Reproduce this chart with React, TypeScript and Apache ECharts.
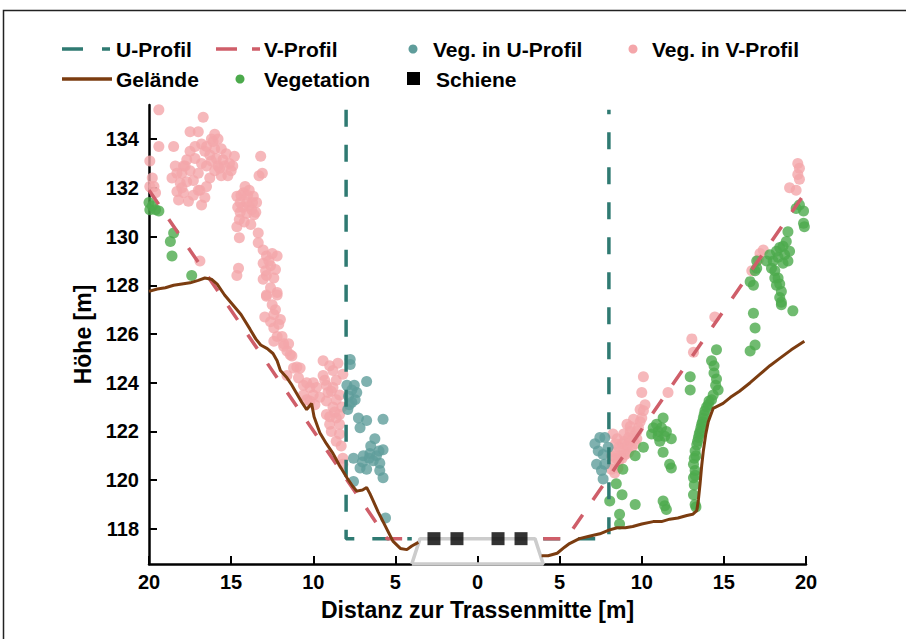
import React, { useEffect, useRef } from "react";
import * as echarts from "echarts";

const FONT = "'Liberation Sans', Arial, Helvetica, sans-serif";

const xTicks = [-20, -15, -10, -5, 0, 5, 10, 15, 20];
const yTicks = [118, 120, 122, 124, 126, 128, 130, 132, 134];

const uProfilLeft = [[-8, 135.2], [-8, 117.6], [-4, 117.6]];
const uProfilRight = [[4, 117.6], [8, 117.6], [8, 135.2]];
const vProfilLeft = [[-20, 131.9], [-5.5, 117.6], [-4, 117.6]];
const vProfilRight = [[4, 117.6], [5.4, 117.6], [20, 131.85]];

const gelaendeLeft = [
  [-20, 127.75], [-19.5, 127.85], [-19, 127.9], [-18.5, 128.0], [-18, 128.05], [-17.5, 128.1],
  [-17, 128.2], [-16.6, 128.3], [-16.2, 128.25], [-15.85, 128.05], [-15.4, 127.6], [-14.9, 127.2],
  [-14.4, 126.8], [-13.85, 126.2], [-13.5, 125.8], [-13.2, 125.55], [-12.8, 125.4], [-12.45, 125.2],
  [-12.2, 124.9], [-12.0, 124.5], [-11.6, 124.2], [-11.3, 123.9], [-11.0, 123.55], [-10.7, 123.2],
  [-10.4, 122.9], [-10.1, 123.15], [-9.95, 122.6], [-9.6, 121.95], [-9.2, 121.5], [-8.8, 121.1],
  [-8.4, 120.6], [-7.95, 120.1], [-7.6, 119.75], [-7.35, 119.55], [-7.0, 119.6], [-6.75, 119.7],
  [-6.55, 119.45], [-6.35, 119.15], [-6.05, 118.7], [-5.75, 118.3], [-5.45, 117.9], [-5.15, 117.5],
  [-4.7, 117.2], [-4.3, 117.15], [-4.0, 117.3], [-3.6, 117.45],
];
const gelaendeRight = [
  [3.9, 116.9], [4.3, 116.9], [4.85, 117.0], [5.3, 117.25], [5.6, 117.4], [6.2, 117.6], [6.8, 117.7],
  [7.45, 117.8], [8.0, 117.95], [8.5, 118.05], [9.0, 118.05], [9.45, 118.1], [10.0, 118.2],
  [10.7, 118.3], [11.2, 118.3], [11.7, 118.4], [12.2, 118.45], [12.75, 118.55], [13.1, 118.6],
  [13.35, 118.75], [13.45, 119.2], [13.55, 119.85], [13.65, 120.6], [13.75, 121.2], [13.9, 121.9],
  [14.05, 122.4], [14.35, 122.95], [14.95, 123.15], [15.4, 123.4], [15.95, 123.65], [16.6, 124.0],
  [17.2, 124.35], [17.8, 124.7], [18.4, 125.0], [19.1, 125.35], [19.9, 125.7],
];

const railBed = [[-4.0, 116.56], [-3.5, 117.6], [3.5, 117.6], [4.0, 116.56], [-4.0, 116.56]];
const schiene = [[-2.65, 117.6], [-1.25, 117.6], [1.25, 117.6], [2.65, 117.6]];

const vegVProfil = [
  [-19.4, 135.2], [-16.7, 134.9], [-17.5, 134.3], [-17.0, 134.3], [-19.4, 133.7], [-18.5, 133.7],
  [-19.95, 133.1], [-16.2, 134.0], [-15.8, 134.0], [-16.5, 133.7], [-16.0, 133.6], [-16.3, 133.35],
  [-17.5, 133.5], [-17.7, 133.15], [-17.2, 133.2], [-16.8, 133.0], [-16.5, 132.9], [-15.5, 133.15],
  [-15.1, 133.0], [-14.8, 133.3], [-15.7, 132.8], [-15.2, 132.5], [-15.6, 132.5], [-13.2, 133.3],
  [-17.5, 132.7], [-18.0, 132.6], [-18.6, 132.4], [-18.1, 132.2], [-17.7, 132.25], [-17.3, 132.3],
  [-18.3, 131.85], [-17.9, 131.8], [-18.2, 131.5], [-17.6, 131.45], [-16.9, 131.9], [-16.5, 132.05],
  [-16.3, 132.4], [-16.8, 131.3], [-19.8, 132.4], [-19.7, 132.05], [-19.95, 132.05], [-19.6, 131.8],
  [-13.3, 132.5], [-13.1, 132.6], [-14.65, 131.65], [-14.25, 131.8], [-14.45, 131.4], [-14.05, 131.4],
  [-14.15, 132.05], [-13.65, 131.65], [-13.45, 131.4], [-13.75, 131.1], [-14.45, 131.0], [-14.05, 130.95],
  [-14.65, 130.4], [-14.5, 129.95], [-13.35, 130.15], [-13.35, 129.75], [-13.05, 129.45], [-12.85, 129.2],
  [-12.5, 129.3], [-12.2, 129.2], [-13.05, 128.9], [-12.6, 128.8], [-12.3, 128.65], [-12.85, 128.4],
  [-13.05, 128.25], [-14.55, 128.7], [-14.65, 128.4], [-16.9, 129.0], [-12.2, 127.7], [-12.85, 127.55],
  [-16.8, 133.8], [-16.1, 133.9], [-15.9, 133.2], [-17.9, 132.9], [-17.0, 132.6], [-18.4, 132.9],
  [-16.0, 132.7], [-15.0, 132.7], [-14.3, 131.2], [-13.9, 131.25], [-13.6, 130.9], [-14.2, 130.6],
  [-13.8, 130.5],
  [-16.6, 133.5], [-16.2, 133.1], [-15.8, 132.9], [-15.4, 132.9], [-16.0, 134.2], [-15.6, 133.6],
  [-17.2, 133.7], [-17.8, 132.9], [-18.3, 132.6], [-17.0, 131.9], [-16.6, 131.6], [-17.3, 131.7],
  [-18.0, 132.0], [-15.3, 133.4], [-14.9, 132.9],
  [-14.4, 131.7], [-14.0, 131.7], [-13.9, 131.9], [-14.5, 130.7], [-13.7, 131.4], [-14.6, 131.2],
  [-13.5, 131.0],
  [-12.7, 129.0], [-12.9, 128.6], [-12.4, 128.3], [-12.6, 127.9], [-12.5, 127.2], [-12.3, 127.0],
  [-12.1, 126.4], [-12.6, 126.5], [-11.9, 125.9], [-11.5, 125.6],
  [-12.85, 127.6], [-12.2, 127.6], [-12.95, 126.7], [-12.4, 126.8], [-12.0, 126.6], [-12.4, 126.25],
  [-12.2, 125.9], [-11.8, 125.6], [-11.6, 125.3], [-11.3, 125.1], [-11.2, 124.6], [-10.8, 124.6],
  [-11.6, 124.3], [-10.6, 123.9], [-10.2, 123.8], [-10.6, 123.5], [-10.0, 123.5], [-9.6, 123.4],
  [-10.2, 123.25], [-9.4, 124.9], [-8.8, 124.5], [-9.4, 124.3], [-9.2, 123.9], [-8.6, 124.1],
  [-8.9, 123.65], [-8.4, 123.5], [-8.2, 124.35], [-9.2, 123.25], [-8.8, 123.0], [-9.2, 122.7],
  [-8.6, 122.55], [-9.0, 122.3], [-8.4, 122.3], [-8.9, 122.0], [-8.4, 121.9], [-8.25, 123.0],
  [-8.4, 122.7], [-8.2, 120.9], [-8.2, 120.65], [-12.4, 125.7], [-11.8, 125.5], [-11.4, 125.15],
  [-11.0, 124.65], [-9.3, 124.1], [-8.6, 123.3], [-9.9, 123.1], [-10.4, 123.3],
  [-10.9, 124.2], [-10.4, 124.0], [-10.0, 124.0], [-9.8, 123.8], [-9.1, 123.6], [-8.8, 123.8],
  [-9.0, 124.7], [-8.5, 124.8], [-8.7, 122.8], [-9.0, 122.6], [-8.6, 121.6], [-8.3, 121.4],
  [10.1, 124.25], [10.0, 123.6], [10.2, 123.1], [10.1, 122.85], [10.0, 122.55], [9.9, 122.4],
  [9.8, 122.15], [9.1, 122.3], [9.3, 122.0], [9.5, 121.8], [9.2, 121.75], [8.95, 121.6], [8.8, 121.5],
  [8.6, 121.35], [8.25, 121.9], [8.35, 121.15], [8.15, 121.0], [8.45, 120.9], [8.25, 120.65],
  [8.55, 120.5], [8.35, 120.3], [8.15, 120.45], [9.6, 121.5], [9.4, 121.35], [9.2, 121.15],
  [9.0, 121.05], [8.8, 120.9], [8.6, 120.8], [11.6, 123.6], [13.05, 125.8], [13.15, 125.25],
  [14.45, 126.7], [17.2, 129.3], [17.1, 129.05], [16.7, 128.6], [17.4, 129.45], [19.0, 132.0],
  [19.4, 131.9], [19.6, 132.35], [19.5, 132.55], [19.5, 133.0], [19.6, 132.8],
  [8.9, 121.2], [9.1, 121.4], [9.3, 121.6], [9.7, 122.0], [9.5, 122.5], [9.9, 122.9], [9.7, 121.7],
  [8.7, 121.0], [8.4, 121.5], [8.5, 121.7], [8.9, 121.9], [9.3, 122.2],
];

const vegUProfil = [
  [-7.75, 124.95], [-7.75, 124.75], [-7.95, 123.9], [-7.65, 123.7], [-7.35, 123.6], [-7.85, 123.45],
  [-7.45, 123.3], [-7.65, 123.2], [-6.75, 124.05], [-7.25, 122.55], [-6.75, 122.45], [-5.75, 122.5],
  [-7.15, 122.15], [-6.25, 121.7], [-5.75, 121.25], [-6.55, 121.1], [-6.95, 121.0], [-6.15, 121.0],
  [-6.35, 120.8], [-5.95, 120.7], [-7.15, 120.5], [-6.75, 120.45], [-5.95, 120.4], [-5.75, 120.1],
  [-7.55, 119.95], [-5.6, 118.45], [-7.55, 120.9], [-7.9, 122.9], [-6.6, 120.9],
  [-7.8, 123.1], [-7.5, 123.9], [-6.5, 121.4], [-6.0, 121.2], [-7.0, 120.75],
  [7.15, 121.5], [7.45, 121.75], [7.75, 121.75], [7.35, 121.2], [7.65, 121.05], [7.25, 120.65],
  [7.75, 120.65], [7.55, 120.4], [7.95, 121.35], [7.65, 120.05],
];

const vegetation = [
  [-20.0, 131.4], [-19.8, 131.25], [-19.6, 131.1], [-19.4, 131.05], [-19.95, 131.1], [-18.5, 130.15],
  [-18.7, 129.8], [-18.6, 129.2], [-17.4, 128.4],
  [14.55, 125.35], [14.25, 124.9], [14.55, 124.15], [14.65, 123.7], [14.25, 123.3], [14.05, 123.1],
  [13.85, 122.85], [13.75, 122.55], [13.65, 122.3], [13.55, 122.0], [13.45, 121.75], [13.35, 121.45],
  [13.25, 121.2], [13.2, 120.9], [13.15, 120.65], [13.15, 120.1], [13.15, 119.4], [12.95, 124.25],
  [12.95, 123.7], [10.7, 122.15], [11.0, 122.0], [11.2, 122.15], [10.6, 121.9], [11.0, 121.8],
  [11.4, 121.8], [11.8, 121.7], [11.3, 121.15], [11.7, 120.65], [11.8, 120.5], [11.3, 122.55],
  [10.1, 121.35], [9.6, 121.0], [8.85, 120.45], [8.45, 119.85], [8.8, 119.4], [8.65, 118.6],
  [9.6, 119.0], [11.3, 119.15], [11.4, 118.95], [13.25, 119.0], [8.65, 118.2], [16.8, 126.85],
  [16.9, 126.25], [16.9, 125.55], [16.6, 125.3], [18.5, 127.2], [19.2, 126.95], [19.6, 131.3],
  [19.85, 131.05], [19.4, 131.15], [19.9, 130.4], [19.85, 130.55], [18.9, 130.2], [18.8, 129.8],
  [19.0, 129.4], [18.7, 129.25], [18.9, 129.0], [18.4, 129.55], [18.3, 129.15], [18.0, 129.0],
  [17.8, 129.25], [17.9, 128.7], [18.1, 128.6], [18.3, 128.3], [18.4, 128.05], [18.5, 127.75],
  [18.4, 127.5], [18.5, 127.3], [18.1, 128.3], [17.6, 129.0], [17.0, 129.0], [16.9, 128.6],
  [16.6, 128.15], [16.8, 128.0], [17.0, 128.7], [8.05, 119.15], [11.5, 118.8], [13.3, 118.9],
  [13.3, 121.0], [13.4, 121.6], [13.5, 121.9], [13.6, 122.15], [13.7, 122.4], [13.8, 122.7],
  [13.95, 123.0], [14.1, 123.25], [14.35, 123.5], [14.5, 123.9], [14.4, 124.4], [14.4, 124.7],
  [13.25, 120.4], [13.2, 119.8], [13.25, 120.2],
  [18.6, 129.6], [18.2, 129.4], [18.6, 128.9], [18.2, 128.0],
  [10.9, 122.3], [11.5, 122.0], [11.1, 121.6],
];

const C = {
  uLine: "#2f7a72",
  vLine: "#cf5e69",
  uDot: "#5f9d9b",
  vDot: "#f4a6aa",
  green: "#4caa4c",
  brown: "#7b3c10",
  gray: "#cccccc",
};

const DASH = [17, 18];

export default function App() {
  const ref = useRef<HTMLDivElement>(null);
  useEffect(() => {
    if (!ref.current) return;
    const chart = echarts.init(ref.current, null, { renderer: "svg" });
    const label = { fontFamily: FONT, fontWeight: "bold" as const, fontSize: 21, fill: "#000" };
    const row1 = 49;
    const row2 = 79;
    const legendGraphics: any[] = [
      { type: "line", shape: { x1: 62, y1: row1, x2: 110, y2: row1 }, style: { stroke: C.uLine, lineWidth: 3.5, lineDash: [21, 19] } },
      { type: "text", x: 116, y: row1, style: { ...label, text: "U-Profil", verticalAlign: "middle" } },
      { type: "line", shape: { x1: 216, y1: row1, x2: 260, y2: row1 }, style: { stroke: C.vLine, lineWidth: 3.5, lineDash: [21, 15] } },
      { type: "text", x: 264, y: row1, style: { ...label, text: "V-Profil", verticalAlign: "middle" } },
      { type: "circle", shape: { cx: 413, cy: row1, r: 4.5 }, style: { fill: C.uDot } },
      { type: "text", x: 433, y: row1, style: { ...label, text: "Veg. in U-Profil", verticalAlign: "middle" } },
      { type: "circle", shape: { cx: 633, cy: row1, r: 4.5 }, style: { fill: C.vDot } },
      { type: "text", x: 652, y: row1, style: { ...label, text: "Veg. in V-Profil", verticalAlign: "middle" } },
      { type: "line", shape: { x1: 62, y1: row2, x2: 112, y2: row2 }, style: { stroke: C.brown, lineWidth: 3.5 } },
      { type: "text", x: 116, y: row2, style: { ...label, text: "Gelände", verticalAlign: "middle" } },
      { type: "circle", shape: { cx: 240, cy: row2, r: 4.5 }, style: { fill: C.green } },
      { type: "text", x: 264, y: row2, style: { ...label, text: "Vegetation", verticalAlign: "middle" } },
      { type: "rect", shape: { x: 407, y: row2 - 7, width: 13, height: 13 }, style: { fill: "#000" } },
      { type: "text", x: 436, y: row2, style: { ...label, text: "Schiene", verticalAlign: "middle" } },
    ];

    const dashLine = (name: string, data: number[][], color: string) => ({
      name,
      type: "line",
      data,
      symbol: "none",
      showSymbol: false,
      lineStyle: { color, width: 3.5, type: DASH, cap: "butt" },
      z: 4,
      clip: false,
    });
    const scatter = (name: string, data: number[][], color: string) => ({
      name,
      type: "scatter",
      data,
      symbolSize: 11,
      itemStyle: { color },
      z: 2,
    });

    chart.setOption({
      animation: false,
      backgroundColor: "#fff",
      grid: { left: 149, right: 100, top: 105, bottom: 75, containLabel: false },
      xAxis: {
        type: "value",
        min: -20,
        max: 20,
        interval: 5,
        splitLine: { show: false },
        axisLine: { onZero: false, lineStyle: { color: "#000", width: 2.5 } },
        axisTick: { inside: true, length: 8, lineStyle: { color: "#000", width: 2 } },
        axisLabel: {
          formatter: (v: number) => String(Math.abs(v)),
          fontSize: 20,
          fontWeight: "bold",
          color: "#000",
          fontFamily: FONT,
          margin: 8,
        },
        name: "Distanz zur Trassenmitte [m]",
        nameLocation: "middle",
        nameGap: 34,
        nameTextStyle: { fontSize: 23, fontWeight: "bold", color: "#000", fontFamily: FONT },
      },
      yAxis: {
        type: "value",
        min: 116.56,
        max: 135.4,
        splitLine: { show: false },
        axisLine: { onZero: false, lineStyle: { color: "#000", width: 2.5 } },
        axisTick: { inside: true, length: 8, customValues: yTicks, lineStyle: { color: "#000", width: 2 } },
        axisLabel: {
          customValues: yTicks,
          fontSize: 20,
          fontWeight: "bold",
          color: "#000",
          fontFamily: FONT,
          margin: 10,
        },
        name: "Höhe [m]",
        nameLocation: "middle",
        nameGap: 50,
        nameRotate: 90,
        nameTextStyle: { fontSize: 23, fontWeight: "bold", color: "#000", fontFamily: FONT },
      },
      graphic: [
        { type: "rect", shape: { x: 3.5, y: 10.5, width: 1000, height: 1000 }, style: { fill: "none", stroke: "#222", lineWidth: 1.5 }, silent: true },
        ...legendGraphics,
      ],
      series: [
        scatter("Veg. in V-Profil", vegVProfil, C.vDot),
        scatter("Veg. in U-Profil", vegUProfil, C.uDot),
        scatter("Vegetation", vegetation, C.green),
        {
          name: "Gleisbett",
          type: "line",
          data: railBed,
          symbol: "none",
          lineStyle: { color: C.gray, width: 3.5 },
          z: 3,
          clip: false,
        },
        {
          name: "Gelände",
          type: "line",
          data: gelaendeLeft,
          symbol: "none",
          lineStyle: { color: C.brown, width: 3 },
          z: 5,
        },
        {
          name: "Gelände",
          type: "line",
          data: gelaendeRight,
          symbol: "none",
          lineStyle: { color: C.brown, width: 3 },
          z: 5,
        },
        dashLine("U-Profil", uProfilLeft, C.uLine),
        dashLine("U-Profil", uProfilRight, C.uLine),
        dashLine("V-Profil", vProfilLeft, C.vLine),
        dashLine("V-Profil", vProfilRight, C.vLine),
        {
          name: "Schiene",
          type: "scatter",
          data: schiene,
          symbol: "rect",
          symbolSize: 13,
          itemStyle: { color: "#000" },
          z: 6,
        },
      ],
    });
    return () => chart.dispose();
  }, []);
  return <div ref={ref} style={{ position: "absolute", left: 0, top: 0, width: 906, height: 639 }} />;
}
